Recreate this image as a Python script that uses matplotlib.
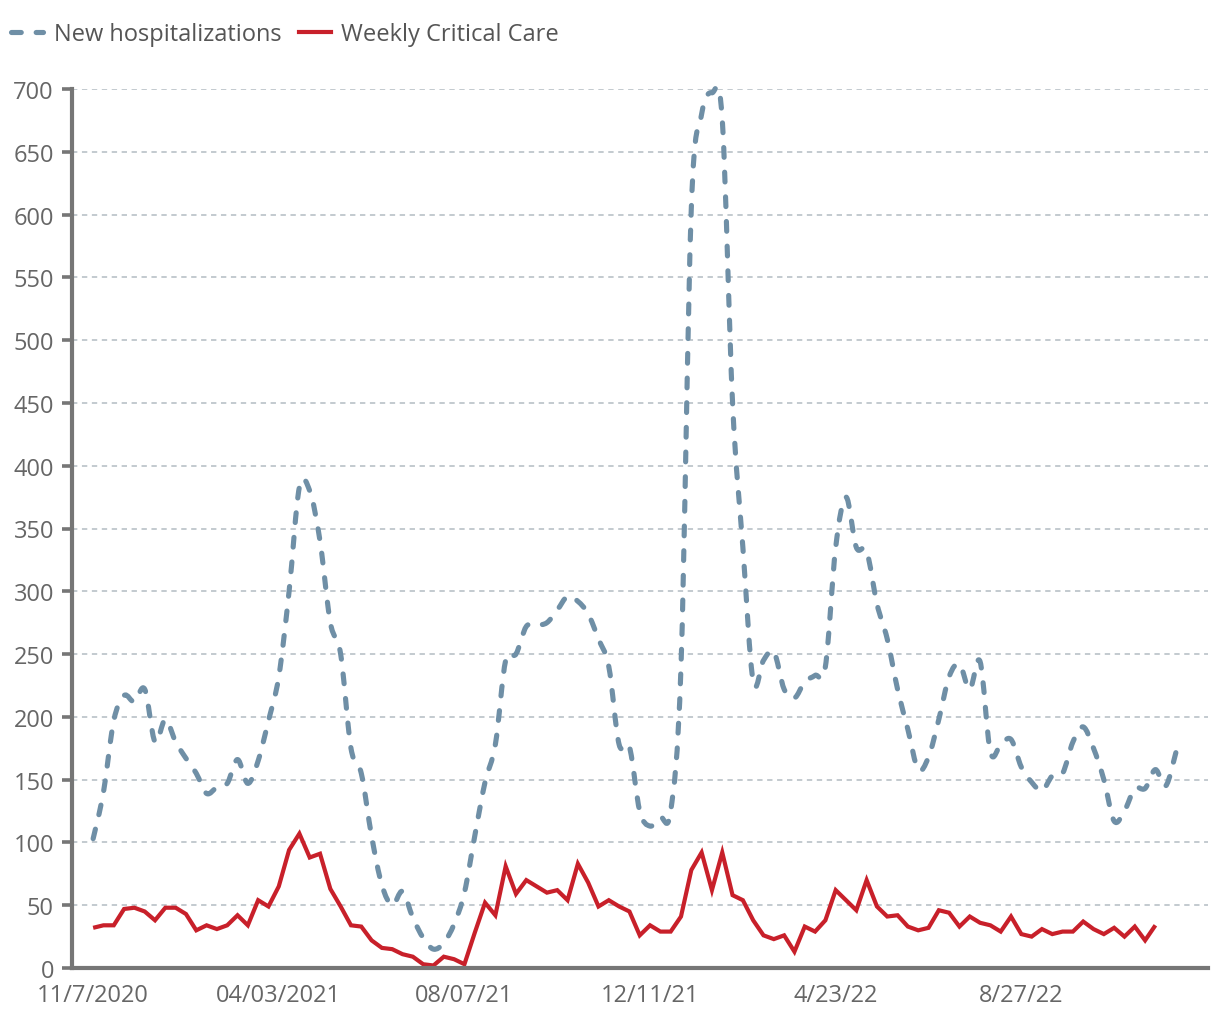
import numpy as np
import matplotlib
matplotlib.use("Agg")
import matplotlib.pyplot as plt
from matplotlib.path import Path
from matplotlib.patches import PathPatch
from matplotlib.lines import Line2D

# ---- data ----
tick_labels = ["11/7/2020", "04/03/2021", "08/07/21", "12/11/21", "4/23/22", "8/27/22"]
tick_index = [0, 18, 36, 54, 72, 90]

new_hospitalizations = [
    103, 140, 197, 217, 212, 222, 180, 198, 180, 167,
    155, 139, 144, 147, 166, 147, 165, 197, 232, 300,
    383, 380, 340, 275, 250, 175, 155, 105, 66, 50,
    61, 40, 24, 15, 20, 35, 60, 105, 148, 178,
    245, 250, 272, 273, 275, 285, 296, 292, 282, 262,
    240, 178, 176, 125, 113, 120, 125, 240, 605, 680,
    697, 676, 450, 335, 228, 245, 252, 222, 215, 228,
    233, 240, 335, 375, 335, 332, 290, 262, 222, 190,
    158, 168, 198, 232, 242, 222, 244, 172, 178, 182,
    160, 148, 141, 153, 155, 180, 192, 175, 150, 117,
    125, 143, 143, 158, 145, 172,
]

weekly_critical_care = [
    32, 34, 34, 47, 48, 45, 38, 48, 48, 43,
    30, 34, 31, 34, 42, 34, 54, 49, 65, 94,
    107, 88, 91, 63, 49, 34, 33, 22, 16, 15,
    11, 9, 3, 2, 9, 7, 3, 28, 52, 42,
    81, 59, 70, 65, 60, 62, 54, 83, 68, 49,
    54, 49, 45, 26, 34, 29, 29, 41, 78, 92,
    62, 92, 58, 54, 38, 26, 23, 26, 13, 33,
    29, 38, 62, 54, 46, 70, 49, 41, 42, 33,
    30, 32, 46, 44, 33, 41, 36, 34, 29, 41,
    27, 25, 31, 27, 29, 29, 37, 31, 27, 32,
    25, 33, 22, 34,
]

BLUE = "#6f8fa6"
RED = "#c8202a"
GRID = "#b3bcc2"
SPINE = "#767676"
TEXT = "#666666"
FONT = ["Open Sans", "DejaVu Sans"]

plt.rcParams["font.family"] = FONT

fig = plt.figure(figsize=(12.2, 10.2), dpi=100)
ax = fig.add_axes([72 / 1220, 51 / 1020, (1208 - 72) / 1220, (969 - 90) / 1020])

# grid
ax.set_ylim(0, 700)
ax.set_yticks(np.arange(0, 701, 50))
ax.yaxis.grid(True, color=GRID, linewidth=1.1, linestyle=(0, (3.5, 3.0)))
ax.xaxis.grid(False)
ax.set_axisbelow(True)

# smooth dashed blue line (Catmull-Rom via cubic Bezier path)
xs = np.arange(len(new_hospitalizations), dtype=float)
ys = np.array(new_hospitalizations, dtype=float)
pts = np.column_stack([xs, ys])
verts = [tuple(pts[0])]
codes = [Path.MOVETO]
n = len(pts)
for i in range(n - 1):
    p0 = pts[i - 1] if i > 0 else pts[i]
    p1 = pts[i]
    p2 = pts[i + 1]
    p3 = pts[i + 2] if i + 2 < n else pts[i + 1]
    c1 = p1 + (p2 - p0) / 6.0
    c2 = p2 - (p3 - p1) / 6.0
    verts += [tuple(c1), tuple(c2), tuple(p2)]
    codes += [Path.CURVE4, Path.CURVE4, Path.CURVE4]
blue_dash = (0, (1.9, 2.9))
patch = PathPatch(Path(verts, codes), fill=False, edgecolor=BLUE, linewidth=3.7,
                  linestyle=blue_dash, capstyle="round", joinstyle="round", zorder=3,
                  clip_on=False)
ax.add_patch(patch)

# red line
xr = np.arange(len(weekly_critical_care))
ax.plot(xr, weekly_critical_care, color=RED, linewidth=3.0, solid_joinstyle="miter",
        solid_capstyle="butt", zorder=4)

ax.set_xlim(-2.05, 108.1)
ax.set_xticks(tick_index)
ax.set_xticklabels(tick_labels)

# spines & ticks
for s in ["top", "right"]:
    ax.spines[s].set_visible(False)
for s in ["left", "bottom"]:
    ax.spines[s].set_color(SPINE)
    ax.spines[s].set_linewidth(3.0)
    ax.spines[s].set_zorder(5)
ax.tick_params(axis="y", length=7, width=2.6, color=SPINE, pad=6,
               labelsize=17, labelcolor=TEXT)
ax.tick_params(axis="x", length=0, pad=11, labelsize=17, labelcolor=TEXT)

# legend
handles = [
    Line2D([], [], color=BLUE, linewidth=3.7, linestyle=blue_dash, dash_capstyle="round"),
    Line2D([], [], color=RED, linewidth=3.0),
]
leg = fig.legend(handles, ["New hospitalizations", "Weekly Critical Care"],
                 loc="center left", bbox_to_anchor=(11 / 1220, 1 - 35 / 1020),
                 bbox_transform=fig.transFigure, ncol=2, frameon=False,
                 borderpad=0, borderaxespad=0, handlelength=1.35, handletextpad=0.45,
                 columnspacing=0.75, fontsize=17)
for t in leg.get_texts():
    t.set_color("#555555")

fig.savefig("out.png", dpi=100)
